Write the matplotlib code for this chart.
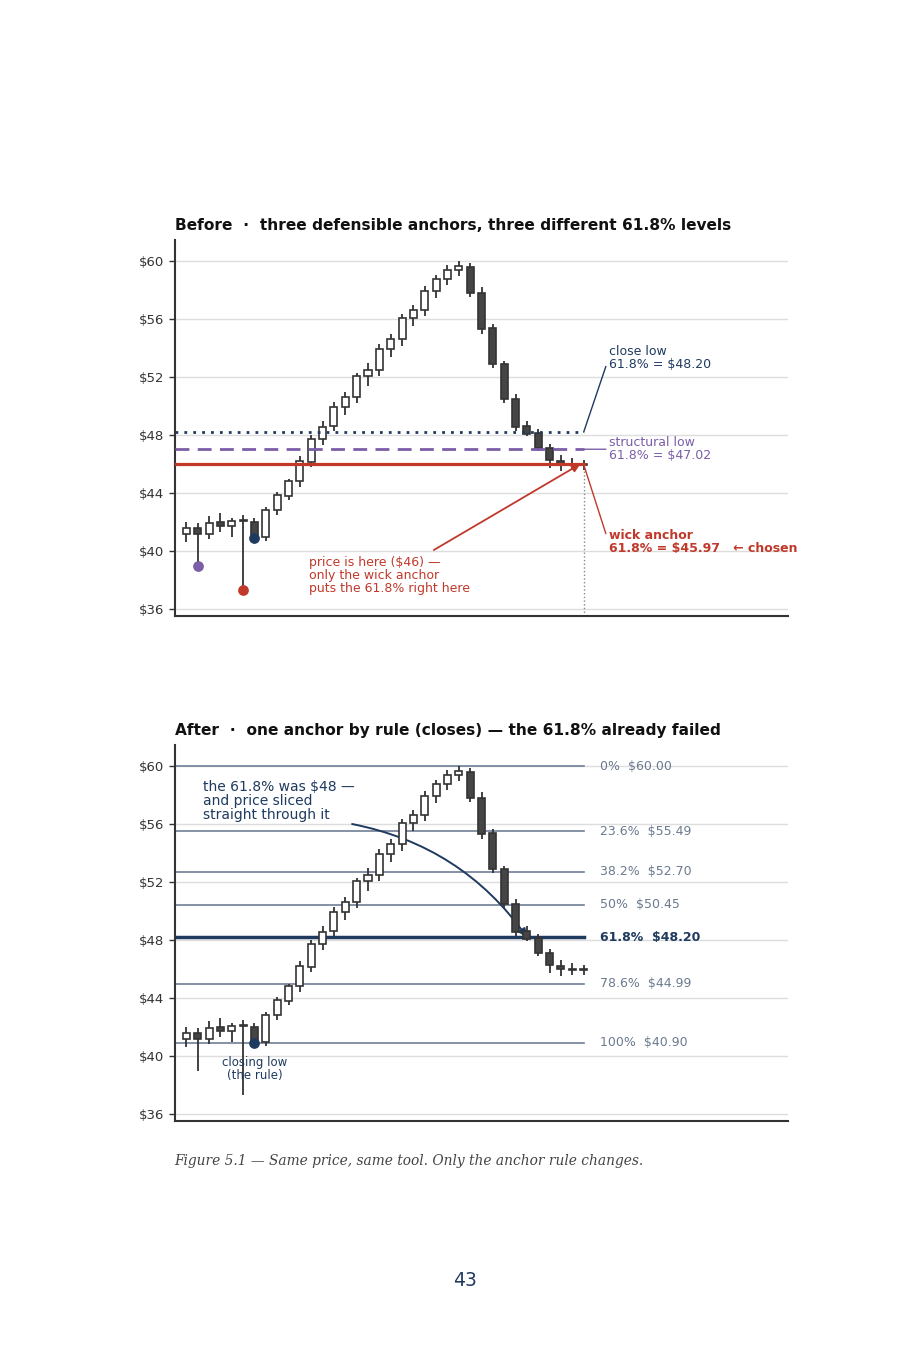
import matplotlib
matplotlib.use("Agg")
import matplotlib.pyplot as plt
from matplotlib.patches import Rectangle

# ---------------- data ----------------
opens  = [41.2, 41.6, 41.2, 42.0, 41.75, 42.1, 42.0, 40.95, 42.85, 43.8, 44.8, 46.15,
          47.7, 48.6, 49.9, 50.65, 52.05, 52.5, 53.9, 54.6, 56.05, 56.6, 57.95, 58.75,
          59.4, 59.6, 57.8, 55.35, 52.9, 50.5, 48.6, 48.15, 47.1, 46.2, 46.0, 45.95]
highs  = [42.0, 41.95, 42.4, 42.6, 42.3, 42.5, 42.25, 43.05, 44.1, 45.0, 46.55, 48.0,
          49.0, 50.25, 51.0, 52.3, 53.0, 54.3, 55.0, 56.35, 57.0, 58.3, 59.05, 59.75,
          60.0, 59.85, 58.2, 55.65, 53.1, 50.85, 49.0, 48.45, 47.4, 46.6, 46.4, 46.3]
lows   = [40.6, 39.0, 40.8, 41.3, 41.0, 37.3, 40.8, 40.7, 42.5, 43.5, 44.45, 45.8,
          47.3, 48.25, 49.4, 50.2, 51.4, 52.1, 53.4, 54.15, 55.5, 56.2, 57.45, 58.35,
          59.0, 57.5, 55.0, 52.6, 50.2, 48.3, 47.9, 46.9, 45.75, 45.55, 45.6, 45.6]
closes = [41.6, 41.2, 41.9, 41.75, 42.1, 42.05, 40.9, 42.85, 43.85, 44.85, 46.2, 47.7,
          48.55, 49.95, 50.65, 52.05, 52.5, 53.9, 54.6, 56.05, 56.6, 57.95, 58.75, 59.4,
          59.65, 57.8, 55.3, 52.9, 50.5, 48.55, 48.1, 47.1, 46.25, 46.0, 45.95, 45.97]

ytick_vals = [36, 40, 44, 48, 52, 56, 60]
ytick_labels = ["$36", "$40", "$44", "$48", "$52", "$56", "$60"]

# anchors (top chart)
anchor_names = ["close low", "structural low", "wick anchor"]
anchor_lows = [40.90, 39.00, 37.30]
anchor_idx = [6, 1, 5]
anchor_618 = [48.20, 47.02, 45.97]

# fib levels (bottom chart)
fib_pcts = ["0%", "23.6%", "38.2%", "50%", "61.8%", "78.6%", "100%"]
fib_prices = [60.00, 55.49, 52.70, 50.45, 48.20, 44.99, 40.90]

# ---------------- style ----------------
NAVY = "#1f3a5f"
PURPLE = "#7b5ea7"
RED = "#c0392b"
DARK = "#333333"
CANDLE_DARK = "#454545"
FIBC = "#6f7f96"
FIBTXT = "#6b7a8f"

plt.rcParams["font.family"] = ["DejaVu Sans"]

fig = plt.figure(figsize=(9, 13.5), dpi=100)
W, H = 900, 1350

def axes_px(left, top, right, bottom):
    return fig.add_axes([left / W, 1 - bottom / H, (right - left) / W, (bottom - top) / H])

ax1 = axes_px(175, 240, 788, 616)
ax2 = axes_px(175, 745, 788, 1121)

n = len(opens)
last = n - 1

def base(ax):
    ax.set_xlim(-1, 53)
    ax.set_ylim(35.52, 61.45)
    ax.set_yticks(ytick_vals)
    ax.set_yticklabels(ytick_labels)
    ax.set_xticks([])
    ax.grid(axis="y", color="#dddddd", linewidth=1.0, zorder=0)
    ax.set_axisbelow(True)
    for s in ["top", "right"]:
        ax.spines[s].set_visible(False)
    for s in ["left", "bottom"]:
        ax.spines[s].set_color(DARK)
        ax.spines[s].set_linewidth(1.5)
    ax.tick_params(axis="y", colors=DARK, labelsize=9.5, length=4, width=1)

def candles(ax):
    w = 0.62
    for i in range(n):
        o, h, l, c = opens[i], highs[i], lows[i], closes[i]
        ax.plot([i, i], [l, h], color=DARK, linewidth=1.3, zorder=3, solid_capstyle="butt")
        up = c >= o
        bottom = min(o, c)
        height = max(abs(c - o), 0.06)
        ax.add_patch(Rectangle((i - w / 2, bottom), w, height,
                               facecolor="white" if up else CANDLE_DARK,
                               edgecolor=DARK, linewidth=1.2, zorder=4))

# ---------------- top chart ----------------
base(ax1)
candles(ax1)
ax1.set_title("Before  ·  three defensible anchors, three different 61.8% levels",
              loc="left", fontsize=11.1, fontweight="bold", color="#111111", pad=7)

ax1.plot([-1, last], [anchor_618[0]] * 2, color=NAVY, linewidth=2, linestyle=(0, (1, 2.2)), zorder=5)
ax1.plot([-1, last], [anchor_618[1]] * 2, color=PURPLE, linewidth=2, linestyle=(0, (5, 3)), zorder=5)
ax1.plot([-1, last], [anchor_618[2]] * 2, color=RED, linewidth=2.3, zorder=5)

ax1.plot([last, last], [35.52, anchor_618[2]], color="#888888", linewidth=1, linestyle=":", zorder=2)

ax1.scatter([anchor_idx[0]], [anchor_lows[0]], s=45, color=NAVY, zorder=6)
ax1.scatter([anchor_idx[1]], [anchor_lows[1]], s=45, color=PURPLE, zorder=6)
ax1.scatter([anchor_idx[2]], [anchor_lows[2]], s=45, color=RED, zorder=6)

tx = 37.2
ax1.annotate("close low\n61.8% = $48.20", xy=(last, anchor_618[0]), xytext=(tx, 53.3),
             color=NAVY, fontsize=9, va="center", ha="left", linespacing=1.0,
             arrowprops=dict(arrowstyle="-", color=NAVY, linewidth=1, shrinkA=0, shrinkB=0,
                             relpos=(0, 0.5)))
ax1.annotate("structural low\n61.8% = $47.02", xy=(last, anchor_618[1]), xytext=(tx, 47.02),
             color=PURPLE, fontsize=9, va="center", ha="left", linespacing=1.0,
             arrowprops=dict(arrowstyle="-", color=PURPLE, linewidth=1, shrinkA=0, shrinkB=0,
                             relpos=(0, 0.5)))
ax1.annotate("wick anchor\n61.8% = $45.97   \u2190 chosen", xy=(last, anchor_618[2]), xytext=(tx, 40.6),
             color=RED, fontsize=9, fontweight="bold", va="center", ha="left", linespacing=1.0,
             arrowprops=dict(arrowstyle="-", color=RED, linewidth=1, shrinkA=0, shrinkB=0,
                             relpos=(0, 0.5)))

ax1.annotate("", xy=(34.7, 46.0), xytext=(21.8, 40.07),
             arrowprops=dict(arrowstyle="-|>", color=RED, linewidth=1.3, mutation_scale=12,
                             shrinkA=0, shrinkB=0))
ax1.text(10.8, 39.65, "price is here ($46) —\nonly the wick anchor\nputs the 61.8% right here",
         color=RED, fontsize=9, va="top", ha="left", linespacing=1.0)

# ---------------- bottom chart ----------------
base(ax2)
ax2.set_title("After  ·  one anchor by rule (closes) — the 61.8% already failed",
              loc="left", fontsize=11.1, fontweight="bold", color="#111111", pad=7)

for p, v in zip(fib_pcts, fib_prices):
    key = p == "61.8%"
    ax2.plot([-1, last], [v, v], color=NAVY if key else FIBC,
             linewidth=2.5 if key else 1.2, zorder=2)
    ax2.text(last + 1.4, v, f"{p}  ${v:.2f}", color=NAVY if key else FIBTXT,
             fontsize=9, fontweight="bold" if key else "normal", va="center", ha="left")

candles(ax2)
ax2.scatter([anchor_idx[0]], [anchor_lows[0]], s=45, color=NAVY, zorder=6)
ax2.text(anchor_idx[0], 40.0, "closing low\n(the rule)", color=NAVY, fontsize=8.5,
         ha="center", va="top", linespacing=0.95, zorder=7)

ax2.text(1.5, 57.6, "the 61.8% was $48 —\nand price sliced\nstraight through it",
         color=NAVY, fontsize=10, ha="left", va="center", linespacing=1.0)
ax2.annotate("", xy=(30.0, 48.2), xytext=(14.6, 56.0),
             arrowprops=dict(arrowstyle="-|>", color=NAVY, linewidth=1.4, mutation_scale=12,
                             shrinkA=0, shrinkB=0, connectionstyle="arc3,rad=-0.2"))

# ---------------- caption & page number ----------------
fig.text(174 / W, 1 - 1161 / H, "Figure 5.1 — Same price, same tool. Only the anchor rule changes.",
         fontsize=9.9, style="italic", family="DejaVu Serif", color="#444444", va="center", ha="left")
fig.text(465 / W, 1 - 1280 / H, "43", fontsize=13.5, color=NAVY, ha="center", va="center")

fig.savefig("out.png", dpi=100, facecolor="white")
